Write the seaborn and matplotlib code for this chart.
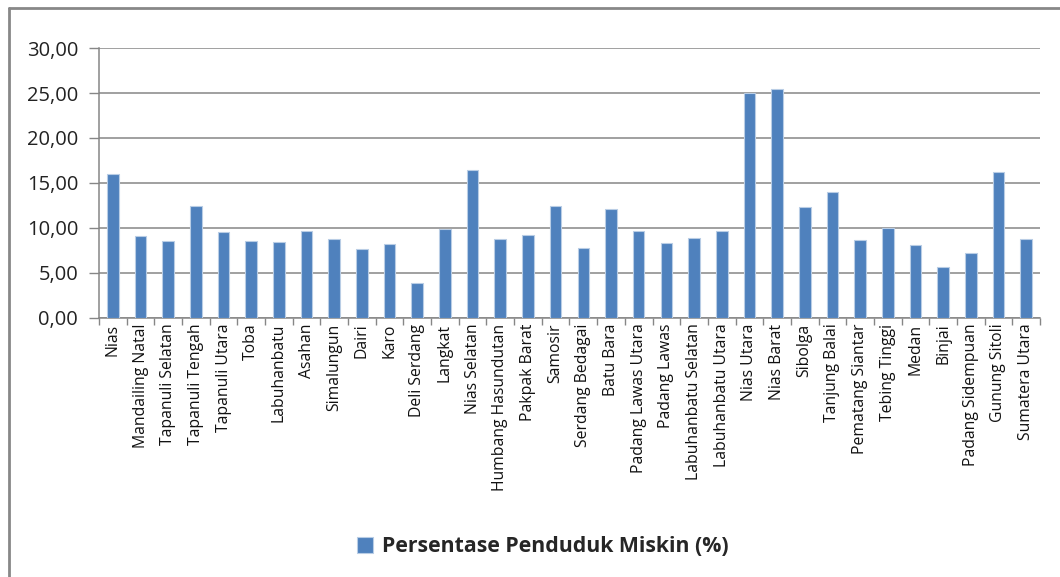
import numpy as np
import pandas as pd
import matplotlib
matplotlib.use('Agg')
import matplotlib.pyplot as plt
from matplotlib.lines import Line2D
from matplotlib.ticker import FuncFormatter, FixedLocator
import seaborn as sns

# data kabupaten/kota
wilayah = ['Nias', 'Mandailing Natal', 'Tapanuli Selatan', 'Tapanuli Tengah', 'Tapanuli Utara',
           'Toba', 'Labuhanbatu', 'Asahan', 'Simalungun', 'Dairi', 'Karo', 'Deli Serdang',
           'Langkat', 'Nias Selatan', 'Humbang Hasundutan', 'Pakpak Barat', 'Samosir',
           'Serdang Bedagai', 'Batu Bara', 'Padang Lawas Utara', 'Padang Lawas',
           'Labuhanbatu Selatan', 'Labuhanbatu Utara', 'Nias Utara', 'Nias Barat', 'Sibolga',
           'Tanjung Balai', 'Pematang Siantar', 'Tebing Tinggi', 'Medan', 'Binjai',
           'Padang Sidempuan', 'Gunung Sitoli', 'Sumatera Utara']

persen_miskin = [15.96, 9.15, 8.56, 12.48, 9.52, 8.56, 8.44, 9.63, 8.78, 7.70, 8.19, 3.85,
                 9.85, 16.40, 8.78, 9.26, 12.48, 7.80, 12.10, 9.63, 8.30, 8.89, 9.63, 25.00,
                 25.50, 12.37, 14.04, 8.67, 10.00, 8.07, 5.67, 7.22, 16.19, 8.78]

label_seri = 'Persentase Penduduk Miskin (%)'
y_ticks = [0, 5, 10, 15, 20, 25, 30]

df = pd.DataFrame({'wilayah': wilayah, 'persen': persen_miskin})

sns.set_style('white')
plt.rcParams['font.family'] = ['Open Sans', 'DejaVu Sans']

fig = plt.figure(figsize=(10.6, 5.77), dpi=100)
ax = fig.add_axes([0.0934, 0.4489, 0.8877, 0.4679])

sns.barplot(data=df, x='wilayah', y='persen', color='#4F81BD', saturation=1,
            width=0.42, edgecolor='#B9CDE5', linewidth=0.8, label=label_seri, ax=ax, zorder=3)

ax.set_xlim(-0.5, len(wilayah) - 0.5)
ax.set_ylim(0, 30)
ax.set_yticks(y_ticks)
ax.yaxis.set_major_formatter(FuncFormatter(lambda v, p: f'{v:.2f}'.replace('.', ',')))
ax.grid(axis='y', color='#868686', linewidth=1.1, zorder=0)
ax.set_axisbelow(True)

# tick marks at category boundaries
ax.xaxis.set_minor_locator(FixedLocator(np.arange(-0.5, len(wilayah), 1.0)))
ax.tick_params(axis='x', which='major', length=0, pad=4, labelsize=11.3, labelrotation=90,
               labelcolor='#111111')
ax.tick_params(axis='x', which='minor', length=5, width=1, color='#868686', bottom=True)
ax.tick_params(axis='y', length=7, width=1, color='#868686', left=True, labelsize=14.5,
               labelcolor='#222222', pad=8)

for s in ['top', 'right']:
    ax.spines[s].set_visible(False)
for s in ['left', 'bottom']:
    ax.spines[s].set_color('#868686')
    ax.spines[s].set_linewidth(1.1)
ax.set_xlabel('')
ax.set_ylabel('')

leg = ax.legend(loc='center', bbox_to_anchor=(0.512, 0.052), bbox_transform=fig.transFigure,
                frameon=False, handlelength=0.75, handleheight=0.75, handletextpad=0.4,
                prop={'weight': 'bold', 'size': 15.3})

# chart area border (left and top only visible)
fig.add_artist(Line2D([9 / 1060, 9 / 1060], [0, 1 - 8 / 577], color='#888888', lw=2,
                      transform=fig.transFigure))
fig.add_artist(Line2D([9 / 1060, 1], [1 - 8 / 577, 1 - 8 / 577], color='#888888', lw=2,
                      transform=fig.transFigure))

fig.savefig('out.png', dpi=100, facecolor='white')
